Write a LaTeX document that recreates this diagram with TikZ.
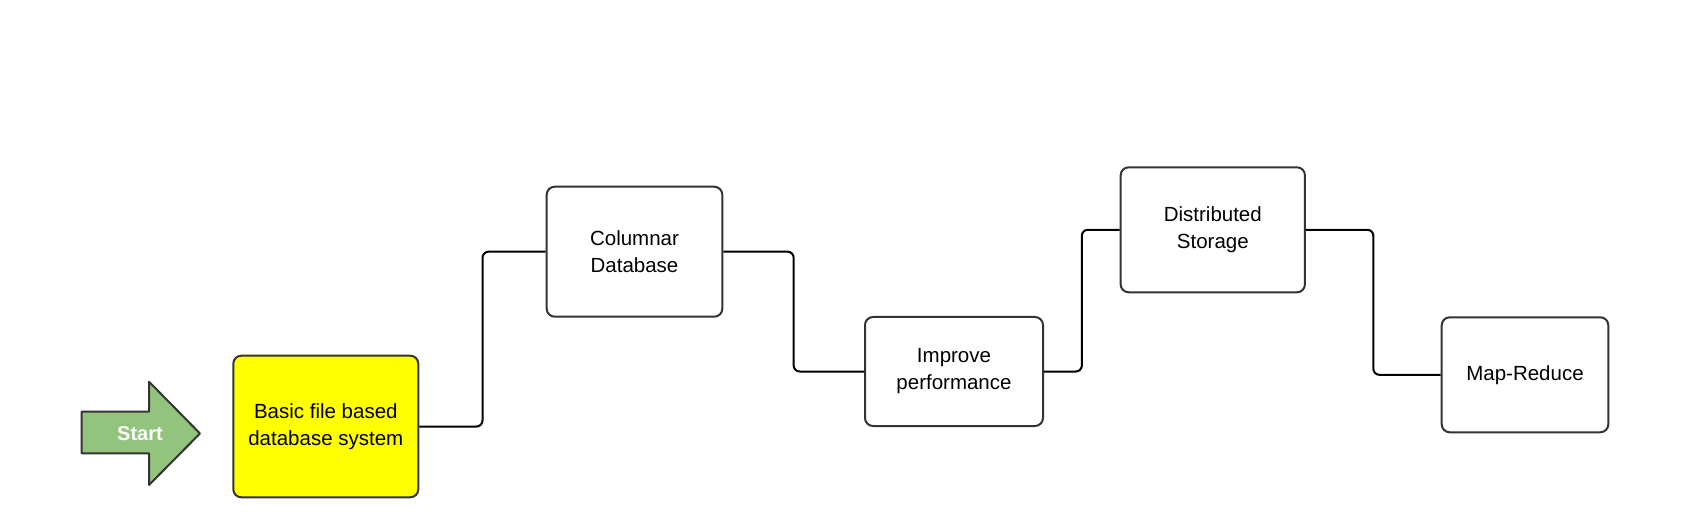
\documentclass[tikz,border=0pt]{standalone}
\usepackage{fontspec}
\setmainfont{Liberation Sans}
\usetikzlibrary{calc}
\begin{document}
\begin{tikzpicture}[x=1pt, y=-1pt, line join=round,
    box/.style={draw=black!80, line width=2pt, rounded corners=8pt, align=center,
        inner sep=0pt, font=\fontsize{20.5}{27}\selectfont},
    link/.style={draw=black, line width=2pt, rounded corners=6pt}]
    \useasboundingbox (0, 0) rectangle (1691, 518);
    %\draw [help lines] (0, 0) grid[step=100] (1691, 518);
    \draw[draw=black!80, fill={rgb,255:red,147;green,196;blue,125}, line width=2pt]
        (81.7, 411.7) -- (149, 411.7) -- (149, 381.7) -- (200, 433.5)
        -- (149, 485) -- (149, 453.3) -- (81.7, 453.3) -- cycle;
    \node[text=white, font=\bfseries\fontsize{20}{24}\selectfont] (start) at (140, 434) {Start};
    \node[box, fill={rgb,255:red,255;green,255;blue,0}, minimum width=185, minimum height=141.6] (basic)
        at (325.8, 426.5) {Basic file based\\database system};
    \node[box, minimum width=175.6, minimum height=130] (columnar)
        at (634.5, 251.7) {Columnar\\Database};
    \node[box, minimum width=178, minimum height=109] (improve)
        at (954, 371.5) {Improve\\performance};
    \node[box, minimum width=184.3, minimum height=125] (distributed)
        at (1212.8, 229.8) {Distributed\\Storage};
    \node[box, minimum width=166.6, minimum height=115] (mapreduce)
        at (1525, 374.8) {Map-Reduce};
    \draw[link] (basic.east) -| ($(basic.east)!0.5!(columnar.west)$) |- (columnar.west);
    \draw[link] (columnar.east) -| ($(columnar.east)!0.5!(improve.west)$) |- (improve.west);
    \draw[link] (improve.east) -| ($(improve.east)!0.5!(distributed.west)$) |- (distributed.west);
    \draw[link] (distributed.east) -| ($(distributed.east)!0.5!(mapreduce.west)$) |- (mapreduce.west);
\end{tikzpicture}
\end{document}
